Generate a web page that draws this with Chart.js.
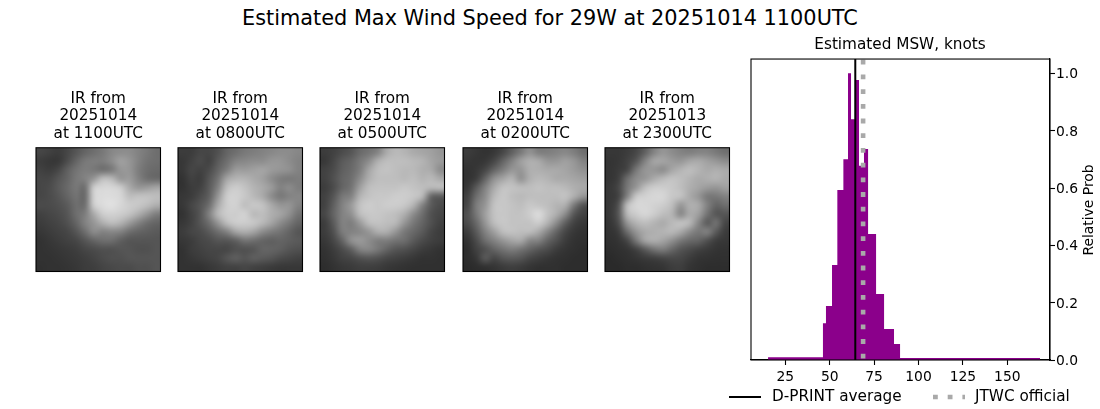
<!DOCTYPE html>
<html>
<head>
<meta charset="utf-8">
<script src="https://cdn.jsdelivr.net/npm/chart.js@4/dist/chart.umd.min.js"></script>
<style>
html, body { margin: 0; padding: 0; background: #fff; }
body { width: 1100px; height: 409px; position: relative; overflow: hidden; font-family: "DejaVu Sans"; }
canvas { position: absolute; }
#suptitle { position: absolute; left: 0; width: 1100px; top: 6px; text-align: center; font-size: 20.83px; line-height: 25px; color: #000; }
</style>
</head>
<body>
<div id="suptitle">Estimated Max Wind Speed for 29W at 20251014 1100UTC</div>
<canvas id="ir0" width="144" height="190"></canvas>
<canvas id="ir1" width="144" height="190"></canvas>
<canvas id="ir2" width="144" height="190"></canvas>
<canvas id="ir3" width="144" height="190"></canvas>
<canvas id="ir4" width="144" height="190"></canvas>
<canvas id="msw" width="400" height="379" style="left:700px;top:30px"></canvas>
<script>
// histogram of estimated wind speed (variable width bins)
const binEdges = [15.3, 46.2, 47.9, 51.3, 54.3, 57.7, 60.3, 62.0, 64.2, 66.5, 69.3, 71.6, 76.1, 80.6, 86.2, 89.6, 168.4];
const binValues = [0.01, 0.128, 0.188, 0.331, 0.593, 0.70, 1.0, 0.84, 0.977, 0.678, 0.736, 0.44, 0.23, 0.108, 0.056, 0.007];
const dprintAverage = 64.4;
const jtwcOfficial = 68.8;
const xTicks = [25, 50, 75, 100, 125, 150];
const yTicks = [0, 0.2, 0.4, 0.6, 0.8, 1.0];

const irDates = ['20251014', '20251014', '20251014', '20251014', '20251013'];
const irTimes = ['1100UTC', '0800UTC', '0500UTC', '0200UTC', '2300UTC'];

const ir1100 = [
  [70,65,60,70,85,100,110,120,135,140,140,130,120,110],
  [60,55,55,75,100,120,125,125,140,160,150,130,115,110],
  [65,60,70,95,115,125,120,110,120,150,150,125,110,105],
  [70,70,85,100,120,130,150,190,185,150,155,130,110,105],
  [70,75,90,105,120,110,205,215,215,205,170,150,155,165],
  [70,75,85,100,115,105,210,220,220,215,190,195,195,190],
  [75,75,80,90,110,110,205,220,225,215,205,200,190,175],
  [65,70,75,85,110,125,170,205,210,205,195,175,150,125],
  [60,65,70,80,100,130,150,175,190,180,155,130,110,100],
  [55,60,65,70,85,110,140,130,135,130,110,100,95,90],
  [50,55,60,65,70,85,100,110,110,95,85,85,85,85],
  [50,52,55,58,62,70,75,80,80,85,85,80,80,85],
  [50,50,52,55,58,62,68,75,80,80,85,85,85,85],
  [48,50,50,52,55,60,62,68,72,75,75,80,80,85]
];
const ir0800 = [
  [60,60,70,70,80,100,110,120,125,130,135,140,140,135],
  [55,65,75,65,90,110,130,135,140,140,150,150,140,130],
  [55,70,65,75,100,125,155,155,160,165,155,150,145,130],
  [50,65,60,85,115,165,180,180,170,160,140,125,120,125],
  [50,60,65,90,130,190,205,195,180,170,155,130,140,125],
  [55,60,75,95,150,205,210,200,185,170,140,120,130,135],
  [55,70,85,110,170,205,210,190,200,195,170,150,150,130],
  [50,65,85,130,185,205,205,210,185,190,175,165,145,115],
  [55,65,85,110,150,190,205,205,200,185,165,140,120,100],
  [60,70,75,90,110,130,165,175,165,140,125,115,100,85],
  [55,60,70,75,85,85,95,115,110,100,95,100,95,90],
  [50,60,65,70,70,70,80,80,85,100,100,95,85,80],
  [50,55,60,65,70,85,95,85,95,90,85,75,70,65],
  [50,50,50,55,60,65,65,70,65,62,58,55,55,55]
];
const ir0500 = [
  [60,65,75,85,105,115,130,170,185,180,170,165,160,150],
  [55,70,90,100,120,140,175,190,190,190,185,180,165,155],
  [65,75,95,105,125,165,190,195,190,185,185,175,170,140],
  [65,80,100,110,140,175,190,190,190,185,190,180,185,170],
  [60,75,100,115,160,190,195,195,195,200,195,190,185,190],
  [65,85,120,130,180,195,200,200,205,205,200,185,100,90],
  [65,95,130,155,195,205,200,205,205,200,180,130,90,75],
  [70,100,130,145,190,200,200,195,190,175,140,110,80,70],
  [60,90,130,125,155,190,195,190,185,150,120,100,80,65],
  [60,80,125,130,135,150,175,175,150,120,105,90,70,60],
  [55,70,100,145,155,140,125,125,115,110,90,75,65,60],
  [50,60,75,95,130,135,120,100,85,80,70,60,55,50],
  [48,55,65,70,80,85,80,70,65,60,55,50,50,48],
  [45,50,55,58,62,62,60,55,52,50,48,48,48,48]
];
const ir0200 = [
  [60,55,50,55,70,95,120,145,125,125,130,135,125,110],
  [55,52,55,70,100,130,160,175,170,150,150,160,150,130],
  [50,55,70,100,125,150,150,175,175,170,170,165,155,145],
  [50,60,100,145,165,180,145,175,185,180,170,170,165,160],
  [55,90,130,170,195,195,190,190,195,190,190,185,175,170],
  [65,110,140,185,200,190,185,190,190,190,190,195,175,150],
  [70,125,150,195,200,195,190,200,195,190,180,175,120,80],
  [80,120,160,195,200,195,195,205,220,195,175,140,85,65],
  [75,105,150,190,200,195,195,195,205,180,140,95,65,55],
  [60,90,130,160,190,195,190,190,170,135,100,70,55,50],
  [50,75,110,130,150,165,170,135,130,100,80,60,50,48],
  [45,65,80,100,115,125,115,100,85,75,60,52,48,45],
  [45,55,90,70,85,90,85,70,62,55,50,48,45,45],
  [42,45,48,52,58,62,58,52,48,48,48,45,45,45]
];
const ir2300 = [
  [55,55,60,70,95,130,150,140,130,125,130,130,120,110],
  [52,55,65,85,130,165,165,155,150,165,170,160,150,140],
  [52,58,70,120,150,150,140,165,180,190,180,170,175,170],
  [52,62,110,140,150,170,185,195,190,180,170,175,180,170],
  [55,70,120,150,190,205,205,200,190,175,165,155,150,160],
  [55,65,130,200,210,215,215,200,195,170,150,120,120,130],
  [55,80,190,215,215,210,205,190,150,175,170,130,100,110],
  [55,85,185,205,215,205,190,180,135,170,160,115,85,85],
  [52,75,150,180,190,180,170,185,195,185,135,90,115,70],
  [50,60,110,150,170,175,180,185,170,140,120,130,90,60],
  [48,52,70,120,165,175,165,145,120,105,100,80,60,55],
  [45,48,52,65,90,115,125,105,85,75,65,58,52,50],
  [42,45,48,52,58,62,68,72,70,60,52,50,48,48],
  [42,42,45,45,48,50,52,60,62,52,48,45,45,45]
];
const irGrids = [ir1100, ir0800, ir0500, ir0200, ir2300];
const panelLefts = [35.5, 178, 320, 462.5, 605];

Chart.defaults.font.family = '"DejaVu Sans"';
Chart.defaults.color = '#000';
Chart.defaults.animation = false;
Chart.defaults.responsive = false;

// black box round the axes
const framePlugin = {
  id: 'frame',
  afterDatasetsDraw(chart) {
    const a = chart.chartArea, c = chart.ctx;
    c.save();
    c.strokeStyle = '#000';
    c.lineWidth = 1.1;
    c.strokeRect(a.left, a.top, a.right - a.left, a.bottom - a.top);
    c.restore();
  }
};

const gridPlugin = {
  id: 'irGrid',
  beforeDatasetsDraw(chart, args, opts) {
    const grid = opts.grid, n = grid.length;
    const off = document.createElement('canvas');
    off.width = off.height = n;
    const oc = off.getContext('2d');
    grid.forEach((row, j) => row.forEach((g, i) => {
      oc.fillStyle = 'rgb(' + g + ',' + g + ',' + g + ')';
      oc.fillRect(i, j, 1, 1);
    }));
    const sx = chart.scales.x, sy = chart.scales.y, c = chart.ctx;
    c.save();
    c.imageSmoothingEnabled = true;
    c.imageSmoothingQuality = 'high';
    c.drawImage(off, sx.getPixelForValue(0), sy.getPixelForValue(0),
      sx.getPixelForValue(n) - sx.getPixelForValue(0), sy.getPixelForValue(n) - sy.getPixelForValue(0));
    c.restore();
  }
};

irGrids.forEach((grid, k) => {
  const el = document.getElementById('ir' + k);
  el.style.left = (panelLefts[k] - 10) + 'px';
  el.style.top = '85px';
  new Chart(el, {
    type: 'scatter',
    data: { datasets: [] },
    plugins: [gridPlugin, framePlugin],
    options: {
      layout: { padding: { left: 10, right: 9.5, bottom: 3.5 } },
      scales: {
        x: { display: false, min: 0, max: grid[0].length },
        y: { display: false, min: 0, max: grid.length, reverse: true }
      },
      plugins: {
        legend: { display: false },
        tooltip: { enabled: false },
        irGrid: { grid: grid },
        title: {
          display: true,
          text: ['IR from', irDates[k], 'at ' + irTimes[k]],
          font: { size: 15.28, weight: 'normal', lineHeight: 1.15 },
          color: '#000',
          padding: { top: 5, bottom: 5 }
        }
      }
    }
  });
});

// Relative Prob reads bottom to top in the original, chart.js turns it the other way on a right axis
const yLabelPlugin = {
  id: 'yLabel',
  afterDraw(chart) {
    const a = chart.chartArea, c = chart.ctx;
    c.save();
    c.translate(389, (a.top + a.bottom) / 2 + 0.5);
    c.rotate(-Math.PI / 2);
    c.font = '13.89px "DejaVu Sans"';
    c.fillStyle = '#000';
    c.textAlign = 'center';
    c.textBaseline = 'middle';
    c.fillText('Relative Prob', 0, 0);
    c.restore();
  }
};

// the built in legend ties its row height to the item spacing, so it is drawn here
const legendLabels = ['D-PRINT average', 'JTWC official'];
const legendPlugin = {
  id: 'lineLegend',
  afterDraw(chart) {
    const c = chart.ctx;
    const spots = [29, 233];
    const y = 367;
    c.save();
    c.font = '15.28px "DejaVu Sans"';
    c.textBaseline = 'middle';
    legendLabels.forEach((label, i) => {
      const ds = chart.data.datasets[i];
      c.beginPath();
      c.strokeStyle = ds.borderColor;
      c.lineWidth = ds.borderWidth;
      c.setLineDash(ds.borderDash || []);
      c.moveTo(spots[i], y);
      c.lineTo(spots[i] + 32, y);
      c.stroke();
      c.setLineDash([]);
      c.fillStyle = '#000';
      c.fillText(label, spots[i] + 43 - i, y);
    });
    c.restore();
  }
};

const histPoints = binEdges.map((e, i) => ({ x: e, y: i < binValues.length ? binValues[i] : 0 }));

new Chart(document.getElementById('msw'), {
  type: 'scatter',
  data: {
    datasets: [
      {
        label: legendLabels[0],
        data: [{ x: dprintAverage, y: 0 }, { x: dprintAverage, y: 1.05 }],
        showLine: true, pointRadius: 0, borderColor: '#000', borderWidth: 2, order: 1
      },
      {
        label: legendLabels[1],
        data: [{ x: jtwcOfficial, y: 0 }, { x: jtwcOfficial, y: 1.05 }],
        showLine: true, pointRadius: 0, borderColor: '#a9a9a9', borderWidth: 4.6,
        borderDash: [4.8, 9.9], borderDashOffset: -1.4, order: 0
      },
      {
        label: 'hist',
        data: histPoints,
        showLine: true, stepped: 'before', pointRadius: 0, borderWidth: 0,
        borderColor: '#8b008b', backgroundColor: '#8b008b', fill: 'origin', order: 2
      }
    ]
  },
  plugins: [framePlugin, yLabelPlugin, legendPlugin],
  options: {
    layout: { padding: { bottom: 27 } },
    scales: {
      x: {
        type: 'linear', min: 5.7, max: 174,
        afterBuildTicks: s => { s.ticks = xTicks.map(v => ({ value: v })); },
        afterFit: s => { s.height = 22; },
        ticks: { font: { size: 13.89 }, color: '#000', maxRotation: 0, padding: 4 },
        border: { color: '#000', width: 1.1 },
        grid: { drawOnChartArea: false, tickLength: 5, tickColor: '#000', tickWidth: 1.1 }
      },
      y: {
        type: 'linear', position: 'right', min: 0, max: 1.05,
        afterBuildTicks: s => { s.ticks = yTicks.map(v => ({ value: v })); },
        afterFit: s => { s.width = 50; },
        ticks: { font: { size: 13.89 }, color: '#000', padding: 1, labelOffset: 1.5, callback: v => v.toFixed(1) },
        border: { color: '#000', width: 1.1 },
        grid: { drawOnChartArea: false, tickLength: 5, tickColor: '#000', tickWidth: 1.1 }
      },
      // empty axis, only keeps the space left of the plot so the title stays centred on it
      spacer: {
        type: 'linear', position: 'left', min: 0, max: 1,
        afterFit: s => { s.width = 51; },
        ticks: { display: false },
        border: { display: false },
        grid: { display: false }
      }
    },
    plugins: {
      tooltip: { enabled: false },
      legend: { display: false },
      title: {
        display: true,
        text: 'Estimated MSW, knots',
        font: { size: 15.28, weight: 'normal', lineHeight: 1.2 },
        color: '#000',
        padding: { top: 6, bottom: 4.7 }
      }
    }
  }
});
</script>
</body>
</html>
